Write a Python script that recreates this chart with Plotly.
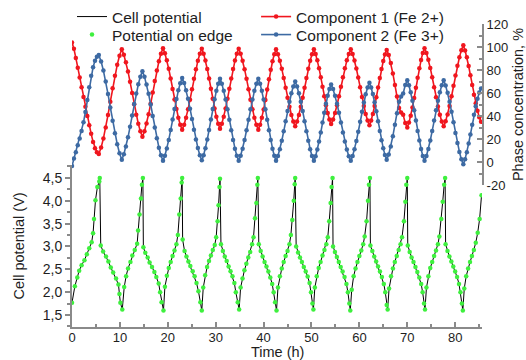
import plotly.graph_objects as go

# ---------------- data ----------------
top_time = [
    0.0, 0.4, 0.8, 1.2, 1.6, 2.0, 2.4, 2.8, 3.2, 3.6, 4.0, 4.4, 4.8, 5.2, 5.6,
    6.08, 6.56, 7.04, 7.52, 8.0, 8.48, 8.96, 9.44, 9.92, 10.4,
    10.83, 11.26, 11.69, 12.12, 12.55, 12.98, 13.41, 13.84, 14.27, 14.7,
    15.13, 15.56, 15.99, 16.42, 16.85, 17.28, 17.71, 18.14, 18.57, 19.0,
    19.4, 19.8, 20.2, 20.6, 21.0, 21.4, 21.8, 22.2, 22.6, 23.0,
    23.41, 23.82, 24.23, 24.64, 25.05, 25.46, 25.87, 26.28, 26.69, 27.1,
    27.48, 27.86, 28.24, 28.62, 29.0, 29.38, 29.76, 30.14, 30.52, 30.9,
    31.29, 31.68, 32.07, 32.46, 32.85, 33.24, 33.63, 34.02, 34.41, 34.8,
    35.21, 35.62, 36.03, 36.44, 36.85, 37.26, 37.67, 38.08, 38.49, 38.9,
    39.27, 39.64, 40.01, 40.38, 40.75, 41.12, 41.49, 41.86, 42.23, 42.6,
    43.0, 43.4, 43.8, 44.2, 44.6, 45.0, 45.4, 45.8, 46.2, 46.6,
    46.99, 47.38, 47.77, 48.16, 48.55, 48.94, 49.33, 49.72, 50.11, 50.5,
    50.86, 51.22, 51.58, 51.94, 52.3, 52.66, 53.02, 53.38, 53.74, 54.1,
    54.51, 54.92, 55.33, 55.74, 56.15, 56.56, 56.97, 57.38, 57.79, 58.2,
    58.59, 58.98, 59.37, 59.76, 60.15, 60.54, 60.93, 61.32, 61.71, 62.1,
    62.46, 62.82, 63.18, 63.54, 63.9, 64.26, 64.62, 64.98, 65.34, 65.7,
    66.13, 66.56, 66.99, 67.42, 67.85, 68.28, 68.71, 69.14, 69.57, 70.0,
    70.36, 70.72, 71.08, 71.44, 71.8, 72.16, 72.52, 72.88, 73.24, 73.6,
    74.0, 74.4, 74.8, 75.2, 75.6, 76.0, 76.4, 76.8, 77.2, 77.6,
    78.01, 78.42, 78.83, 79.24, 79.65, 80.06, 80.47, 80.88, 81.29, 81.7,
    82.07, 82.44, 82.81, 83.18, 83.55, 83.92, 84.29, 84.66, 85.03, 85.4,
]

component1_fe2 = [
    104, 98.5, 90.5, 82, 73.5, 65, 56.5, 48, 40, 32, 24.5, 17.5, 12, 8.5, 7,
    12.6, 20.5, 30.0, 40.9, 52.5, 64.1, 75.0, 84.5, 92.4, 98,
    93.3, 86.8, 78.8, 69.7, 60, 50.3, 41.2, 33.2, 26.7, 22,
    26.8, 33.4, 41.5, 50.6, 60.5, 70.4, 79.5, 87.6, 94.2, 99,
    94.6, 88.5, 81.0, 72.6, 63.5, 54.4, 46.0, 38.5, 32.4, 28,
    32.4, 38.4, 45.8, 54.2, 63.3, 72.3, 80.7, 88.1, 94.1, 98.5,
    94.2, 88.2, 80.9, 72.6, 63.8, 54.9, 46.6, 39.3, 33.3, 29,
    33.3, 39.3, 46.6, 54.9, 63.8, 72.6, 80.9, 88.2, 94.2, 98.5,
    94.1, 88.1, 80.7, 72.3, 63.3, 54.2, 45.8, 38.4, 32.4, 28,
    32.3, 38.4, 45.7, 54, 63, 72, 80.3, 87.6, 93.7, 98,
    93.8, 88.1, 81.0, 73.1, 64.5, 55.9, 48.0, 40.9, 35.2, 31,
    35.2, 40.9, 48.0, 55.9, 64.5, 73.1, 81.0, 88.1, 93.8, 98,
    94, 88.4, 81.6, 73.8, 65.5, 57.2, 49.4, 42.6, 37, 33,
    37, 42.6, 49.4, 57.2, 65.5, 73.8, 81.6, 88.4, 94, 98,
    93.9, 88.2, 81.3, 73.4, 65, 56.6, 48.7, 41.8, 36.1, 32,
    36.1, 41.7, 48.6, 56.4, 64.8, 73.1, 80.9, 87.8, 93.4, 97.5,
    93, 86, 77, 67, 57, 47, 43, 41, 34, 30,
    34.3, 40.2, 47.5, 55.7, 64.5, 73.3, 81.5, 88.8, 94.7, 99,
    94.8, 88.9, 81.8, 73.7, 65, 56.3, 48.2, 41.1, 35.2, 31,
    35.4, 41.4, 48.8, 57.2, 66.3, 75.3, 83.7, 91.1, 97.1, 101.5,
    97, 91, 83.5, 75.5, 67, 58.5, 51, 44.5, 39, 35,
]

component2_fe3 = [
    -3.5, 3, 8.5, 14.5, 20.5, 27, 34.5, 43.5, 54, 65, 75, 82.5, 88, 91.5, 93,
    87.4, 79.5, 70.0, 59.1, 47.5, 35.9, 25.0, 15.5, 7.6, 2,
    6.8, 13.4, 21.5, 30.6, 40.5, 50.4, 59.5, 67.6, 74.2, 79,
    74.2, 67.5, 59.3, 50, 40, 30, 20.7, 12.5, 5.8, 1,
    5.5, 11.7, 19.2, 27.8, 37, 46.2, 54.8, 62.3, 68.5, 73,
    68.6, 62.4, 54.9, 46.4, 37.3, 28.1, 19.6, 12.1, 5.9, 1.5,
    5.9, 12, 19.5, 27.9, 37, 46.1, 54.5, 62, 68.1, 72.5,
    68.1, 61.9, 54.4, 45.9, 36.8, 27.6, 19.1, 11.6, 5.4, 1,
    5.4, 11.6, 19.1, 27.6, 36.8, 45.9, 54.4, 61.9, 68.1, 72.5,
    68.1, 61.9, 54.4, 45.9, 36.8, 27.6, 19.1, 11.6, 5.4, 1,
    5.3, 11.2, 18.5, 26.7, 35.5, 44.3, 52.5, 59.8, 65.7, 70,
    65.7, 59.8, 52.5, 44.3, 35.5, 26.7, 18.5, 11.2, 5.3, 1,
    5.1, 10.8, 17.8, 25.7, 34.3, 42.8, 50.7, 57.7, 63.4, 67.5,
    63.4, 57.7, 50.7, 42.8, 34.3, 25.7, 17.8, 10.8, 5.1, 1,
    5.2, 11.1, 18.2, 26.3, 35, 43.7, 51.8, 58.9, 64.8, 69,
    64.8, 59.1, 52.0, 44.1, 35.5, 26.9, 19.0, 11.9, 6.2, 2,
    6.5, 13.5, 22.5, 32.5, 42.5, 52.5, 57, 59.5, 67, 71,
    66.7, 60.6, 53.3, 45, 36, 27, 18.7, 11.4, 5.3, 1,
    5.3, 11.4, 18.7, 27, 36, 45, 53.3, 60.6, 66.7, 71,
    66.5, 60.2, 52.5, 43.8, 34.5, 25.2, 16.5, 8.8, 2.5, -2,
    2.5, 8.5, 16, 24, 32.5, 41, 48.5, 55, 60.5, 64,
]

cell_time = [
    0.0, 0.6, 1.1, 1.5, 2.0, 2.6, 3.1, 3.6, 4.1, 4.4, 4.6, 4.9, 5.3, 5.7, 5.8,
    6.0, 6.5, 7.1, 7.6, 8.1, 8.6, 9.2, 9.7, 9.9, 10.1, 10.5,
    10.9, 11.3, 11.7, 12.2, 12.6, 13.1, 13.6, 13.8, 14.1, 14.4, 14.6, 14.8,
    14.9, 15.3, 15.8, 16.2, 16.7, 17.2, 17.6, 18.1, 18.4, 18.7, 19.1,
    19.4, 19.8, 20.2, 20.6, 21.0, 21.4, 21.8, 22.1, 22.4, 22.7, 22.9, 23.0,
    23.1, 23.5, 23.9, 24.3, 24.7, 25.2, 25.6, 26.0, 26.4, 26.8, 27.1,
    27.4, 27.8, 28.2, 28.6, 29.0, 29.4, 29.8, 30.1, 30.4, 30.6, 30.8, 30.9,
    31.1, 31.5, 31.9, 32.3, 32.7, 33.1, 33.5, 33.9, 34.2, 34.6, 34.9,
    35.2, 35.6, 36.0, 36.4, 36.8, 37.2, 37.6, 37.9, 38.2, 38.5, 38.7, 38.8,
    39.0, 39.4, 39.8, 40.2, 40.6, 41.0, 41.4, 41.8, 42.1, 42.4, 42.7,
    43.0, 43.4, 43.8, 44.2, 44.6, 45.0, 45.4, 45.7, 46.0, 46.3, 46.5, 46.6,
    46.8, 47.2, 47.6, 48.0, 48.4, 48.8, 49.2, 49.6, 49.9, 50.2, 50.4,
    50.7, 51.1, 51.5, 51.9, 52.3, 52.7, 53.1, 53.4, 53.7, 54.0, 54.2, 54.4,
    54.5, 54.9, 55.3, 55.7, 56.1, 56.5, 56.9, 57.3, 57.6, 57.9, 58.1,
    58.4, 58.8, 59.2, 59.6, 60.0, 60.4, 60.8, 61.1, 61.5, 61.8, 62.0, 62.2,
    62.3, 62.7, 63.1, 63.5, 63.9, 64.3, 64.7, 65.1, 65.4, 65.7, 65.9,
    66.2, 66.6, 67.0, 67.4, 67.8, 68.2, 68.6, 68.9, 69.3, 69.6, 69.8, 70.0,
    70.1, 70.5, 70.9, 71.3, 71.7, 72.1, 72.5, 72.9, 73.2, 73.5, 73.7,
    74.0, 74.4, 74.8, 75.2, 75.6, 76.0, 76.4, 76.7, 77.1, 77.4, 77.7, 77.9,
    78.0, 78.4, 78.8, 79.2, 79.6, 80.0, 80.4, 80.8, 81.1, 81.4, 81.6,
    81.9, 82.3, 82.7, 83.1, 83.5, 83.9, 84.3, 84.7, 85.1, 85.5,
]

cell_potential = [
    1.77, 2.13, 2.32, 2.47, 2.59, 2.70, 2.83, 2.96, 3.09, 3.29, 3.60, 4.01, 4.30, 4.42, 4.50,
    3.02, 2.89, 2.78, 2.67, 2.54, 2.43, 2.30, 2.17, 1.96, 1.77, 1.62,
    2.11, 2.35, 2.52, 2.66, 2.80, 2.92, 3.06, 3.35, 3.70, 4.05, 4.35, 4.50,
    2.98, 2.86, 2.76, 2.65, 2.55, 2.44, 2.33, 2.19, 2.00, 1.78, 1.60,
    2.12, 2.36, 2.53, 2.66, 2.79, 2.91, 3.05, 3.25, 3.70, 4.05, 4.40, 4.50,
    3.15, 2.90, 2.78, 2.67, 2.57, 2.46, 2.35, 2.20, 2.02, 1.78, 1.60,
    2.10, 2.37, 2.55, 2.68, 2.80, 2.92, 3.03, 3.20, 3.55, 3.90, 4.30, 4.48,
    3.05, 2.90, 2.78, 2.68, 2.56, 2.46, 2.35, 2.20, 2.00, 1.78, 1.62,
    2.10, 2.30, 2.48, 2.62, 2.76, 2.88, 3.05, 3.20, 3.62, 3.95, 4.35, 4.50,
    3.05, 2.90, 2.78, 2.66, 2.56, 2.45, 2.32, 2.18, 2.00, 1.78, 1.60,
    2.10, 2.35, 2.52, 2.66, 2.79, 2.90, 3.05, 3.25, 3.58, 4.00, 4.36, 4.50,
    3.00, 2.87, 2.76, 2.66, 2.55, 2.45, 2.34, 2.20, 2.00, 1.75, 1.62,
    2.10, 2.35, 2.53, 2.66, 2.80, 2.92, 3.05, 3.20, 3.55, 3.95, 4.30, 4.50,
    3.00, 2.88, 2.77, 2.66, 2.55, 2.45, 2.33, 2.18, 2.00, 1.75, 1.60,
    2.05, 2.35, 2.52, 2.66, 2.79, 2.91, 3.05, 3.22, 3.55, 4.00, 4.35, 4.50,
    3.02, 2.90, 2.78, 2.67, 2.56, 2.45, 2.33, 2.18, 2.00, 1.72, 1.62,
    2.08, 2.35, 2.52, 2.66, 2.79, 2.92, 3.05, 3.20, 3.55, 3.98, 4.35, 4.50,
    3.02, 2.88, 2.76, 2.66, 2.55, 2.44, 2.32, 2.18, 2.00, 1.75, 1.62,
    2.10, 2.35, 2.53, 2.66, 2.79, 2.91, 3.05, 3.22, 3.60, 3.98, 4.35, 4.50,
    3.05, 2.90, 2.78, 2.67, 2.56, 2.45, 2.33, 2.18, 2.00, 1.75, 1.60,
    2.08, 2.35, 2.52, 2.66, 2.79, 2.92, 3.08, 3.30, 3.60, 4.12,
]

x_ticks = [0, 10, 20, 30, 40, 50, 60, 70, 80]
left_ticks = [1.5, 2.0, 2.5, 3.0, 3.5, 4.0, 4.5]
right_ticks = [-20, 0, 20, 40, 60, 80, 100, 120]
right_tick_text = ["-20", "0", "20", "40", "60", "80", "100", "120"]

# ---------------- styles ----------------
FONT = "Arial, Liberation Sans, sans-serif"
TXT = "#1e1e1e"
AXIS_GREY = "#8a8a8a"
RED = "#f0161e"
BLUE = "#3d6aa3"
GREEN = "#3ef03e"

fig = go.Figure()

fig.add_trace(go.Scatter(
    x=cell_time, y=cell_potential, name="Cell potential", mode="lines",
    line=dict(color="black", width=1), xaxis="x", yaxis="y", legend="legend"))
fig.add_trace(go.Scatter(
    x=cell_time, y=cell_potential, name="Potential on edge", mode="markers",
    marker=dict(color=GREEN, size=4.5), xaxis="x", yaxis="y", legend="legend2"))
fig.add_trace(go.Scatter(
    x=top_time, y=component1_fe2, name="Component 1 (Fe 2+)", mode="lines+markers",
    line=dict(color=RED, width=1.6), marker=dict(color=RED, size=4.5),
    xaxis="x", yaxis="y2", legend="legend3"))
fig.add_trace(go.Scatter(
    x=top_time, y=component2_fe3, name="Component 2 (Fe 3+)", mode="lines+markers",
    line=dict(color=BLUE, width=1.6), marker=dict(color=BLUE, size=4.5),
    xaxis="x", yaxis="y2", legend="legend4"))

legend_common = dict(
    font=dict(family=FONT, size=15.5, color=TXT),
    bgcolor="rgba(0,0,0,0)", borderwidth=0, orientation="v",
    xanchor="left", yanchor="middle", itemwidth=30,
)
ROW1 = 1.0231
ROW2 = 0.9637
LEFT_X = 0.0
RIGHT_X = 0.449

fig.update_layout(
    width=526, height=360,
    showlegend=True,
    margin=dict(l=72, r=44, t=24, b=33, autoexpand=False),
    paper_bgcolor="white", plot_bgcolor="rgba(0,0,0,0)",
    separators=", ",
    font=dict(family=FONT, size=13, color=TXT),
    legend=dict(x=LEFT_X, y=ROW1, **legend_common),
    legend2=dict(x=LEFT_X, y=ROW2, **legend_common),
    legend3=dict(x=RIGHT_X, y=ROW1, **legend_common),
    legend4=dict(x=RIGHT_X, y=ROW2, **legend_common),
    xaxis=dict(
        domain=[0, 1], range=[0, 85.6], anchor="y",
        tickvals=x_ticks, ticks="inside", ticklen=5, tickwidth=1.5, tickcolor=AXIS_GREY,
        minor=dict(dtick=5, ticks="inside", ticklen=3, tickcolor=AXIS_GREY),
        showline=True, linecolor=AXIS_GREY, linewidth=2,
        showgrid=False, zeroline=False,
        tickfont=dict(size=13, color=TXT),
        ticklabelstandoff=-3,
        automargin=False,
    ),
    yaxis=dict(
        domain=[0, 0.535], range=[1.237, 4.785], anchor="x", side="left",
        tickvals=left_ticks, tickformat=".1f",
        ticks="outside", ticklen=5, tickwidth=1.5, tickcolor=AXIS_GREY,
        minor=dict(dtick=0.25, tick0=0, ticks="outside", ticklen=3, tickcolor=AXIS_GREY),
        showline=True, linecolor=AXIS_GREY, linewidth=2,
        showgrid=False, zeroline=False,
        tickfont=dict(size=14, color=TXT),
        title=dict(text="Cell potential (V)", font=dict(size=14.5, color=TXT), standoff=15),
        automargin=False,
    ),
    yaxis2=dict(
        domain=[0.4686, 1], range=[-20, 120], anchor="x", side="right",
        tickvals=right_ticks, ticktext=right_tick_text,
        ticks="inside", ticklen=5, tickwidth=1.5, tickcolor=AXIS_GREY,
        minor=dict(dtick=10, tick0=0, ticks="inside", ticklen=3, tickcolor=AXIS_GREY),
        showline=True, linecolor=AXIS_GREY, linewidth=2,
        showgrid=False, zeroline=False,
        tickfont=dict(size=13, color=TXT),
        title=dict(text="Phase concentration, %", font=dict(size=14.5, color=TXT), standoff=8),
        automargin=False,
    ),
    annotations=[dict(
        text="Time (h)", xref="paper", yref="paper", x=0.5, y=-0.0825,
        xanchor="center", yanchor="middle", showarrow=False,
        font=dict(family=FONT, size=14.5, color=TXT),
    )],
)

fig.write_html(
    "out.html",
    config={"displayModeBar": False},
    post_script="document.body.style.margin='0';document.body.style.overflow='hidden';",
)
